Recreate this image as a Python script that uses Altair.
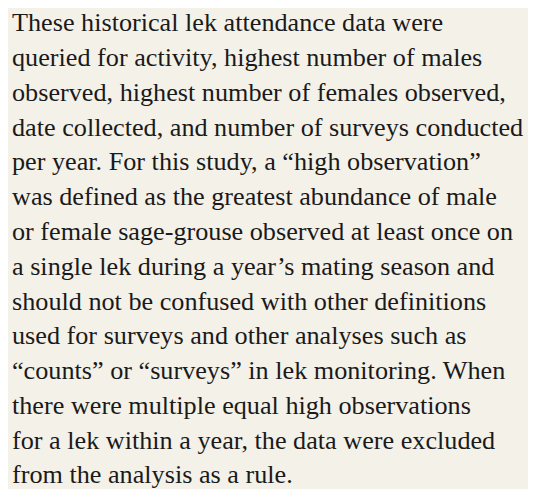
import altair as alt
import pandas as pd

lines = [
    "These historical lek attendance data were",
    "queried for activity, highest number of males",
    "observed, highest number of females observed,",
    "date collected, and number of surveys conducted",
    "per year. For this study, a \u201chigh observation\u201d",
    "was defined as the greatest abundance of male",
    "or female sage-grouse observed at least once on",
    "a single lek during a year\u2019s mating season and",
    "should not be confused with other definitions",
    "used for surveys and other analyses such as",
    "\u201ccounts\u201d or \u201csurveys\u201d in lek monitoring. When",
    "there were multiple equal high observations",
    "for a lek within a year, the data were excluded",
    "from the analysis as a rule.",
]
line_no = list(range(1, len(lines) + 1))

df = pd.DataFrame({"line": line_no, "text": lines})

chart = (
    alt.Chart(df)
    .mark_text(
        align="left",
        baseline="alphabetic",
        font="Liberation Serif",
        fontSize=26.2,
        color="#1a1a1a",
    )
    .encode(
        x=alt.value(4),
        y=alt.Y("line:Q", scale=alt.Scale(domain=[0.331, 14.016], reverse=True, nice=False, zero=False), axis=None),
        text="text:N",
    )
    .properties(
        width=520,
        height=481,
        autosize=alt.AutoSizeParams(type="fit", contains="padding"),
        padding=0,
        background="#f4f1e9",
    )
    .configure_view(stroke=None)
)

chart.save("out.html", embed_options={"renderer": "svg", "actions": False})
